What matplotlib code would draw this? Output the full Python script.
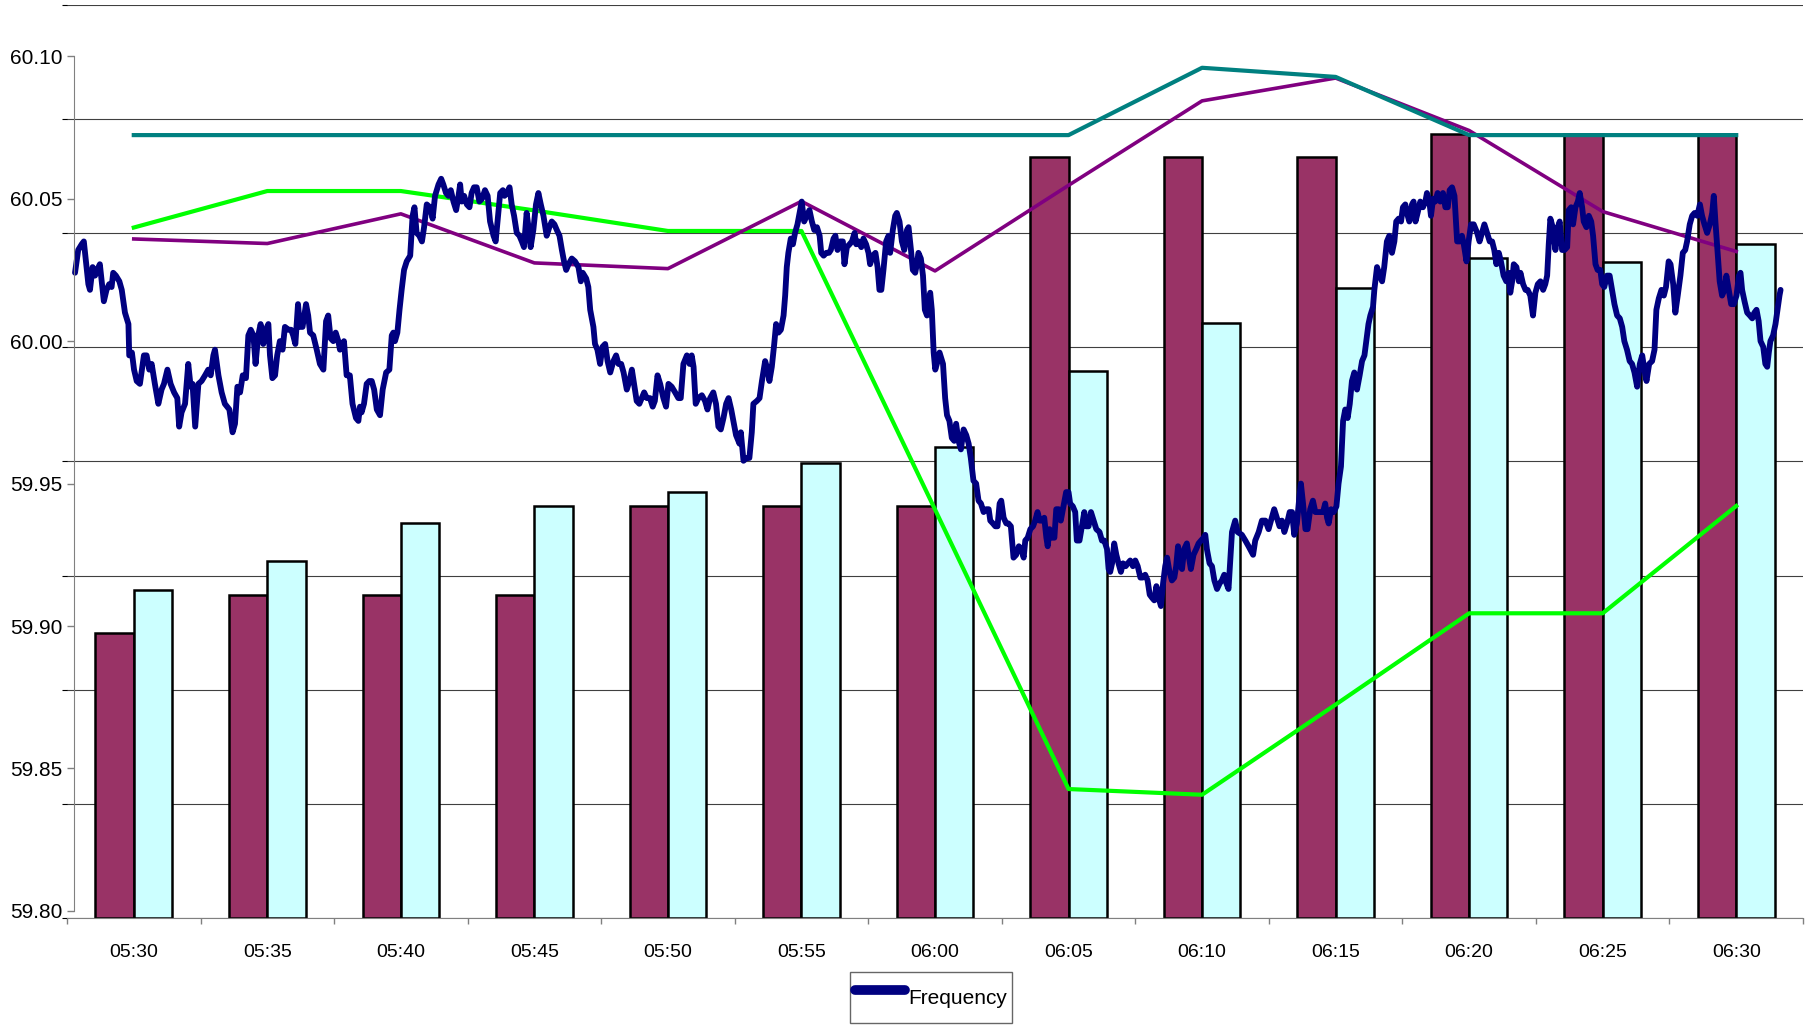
import matplotlib.pyplot as plt
import numpy as np
from matplotlib.lines import Line2D
from matplotlib import font_manager as fm

# categories (5 minute blocks)
times = ["05:30", "05:35", "05:40", "05:45", "05:50", "05:55", "06:00",
         "06:05", "06:10", "06:15", "06:20", "06:25", "06:30"]

# secondary scale series (bars + thin lines)
bar_maroon = [250, 283, 283, 283, 361, 361, 361, 667, 667, 667, 687, 687, 687]
bar_cyan = [287, 313, 346, 361, 373, 399, 413, 479, 521, 552, 578, 575, 591]
line_teal = [686, 686, 686, 686, 686, 686, 686, 686, 745, 737, 686, 686, 686]
line_purple = [595, 591, 617, 574, 569, 628, 567, 642, 716, 736, 690, 619, 584]
line_green = [605, 637, 637, 620, 602, 602, 358, 113, 108, 187, 267, 267, 361]

# frequency trace: (minutes after 05:30, Hz)
freq_a = [(-2.20, 60.024), (-2.08, 60.032), (-1.95, 60.034), (-1.87, 60.035), (-1.79, 60.028),
          (-1.70, 60.020), (-1.64, 60.018), (-1.54, 60.026), (-1.45, 60.023), (-1.37, 60.025),
          (-1.27, 60.027), (-1.20, 60.021), (-1.12, 60.014), (-1.02, 60.018), (-0.92, 60.020),
          (-0.83, 60.019), (-0.77, 60.024), (-0.67, 60.023), (-0.54, 60.021), (-0.45, 60.018),
          (-0.33, 60.010), (-0.20, 60.006), (-0.17, 59.995), (-0.07, 59.996), (0.01, 59.990),
          (0.11, 59.986), (0.23, 59.985), (0.38, 59.995), (0.48, 59.995), (0.58, 59.990),
          (0.67, 59.992), (0.79, 59.985), (0.92, 59.978), (1.04, 59.983), (1.13, 59.985),
          (1.26, 59.990), (1.38, 59.985), (1.51, 59.982), (1.63, 59.980), (1.70, 59.970),
          (1.79, 59.975), (1.92, 59.978), (2.04, 59.992), (2.13, 59.984), (2.20, 59.985),
          (2.30, 59.970), (2.42, 59.985), (2.54, 59.986), (2.67, 59.988), (2.79, 59.990),
          (2.88, 59.988), (2.98, 59.995), (3.04, 59.997), (3.17, 59.988), (3.29, 59.982),
          (3.41, 59.978), (3.58, 59.976), (3.70, 59.968), (3.79, 59.971), (3.88, 59.984),
          (3.98, 59.982), (4.08, 59.988), (4.20, 59.987), (4.29, 60.002), (4.38, 60.004),
          (4.48, 60.002), (4.56, 59.992), (4.66, 60.002), (4.75, 60.006), (4.85, 59.999),
          (4.94, 60.004), (5.04, 60.006), (5.10, 59.995), (5.19, 59.987), (5.29, 59.988),
          (5.37, 59.995), (5.47, 60.000), (5.57, 59.997), (5.66, 60.005), (5.79, 60.004),
          (5.89, 60.004), (5.97, 60.002), (6.05, 59.999), (6.15, 60.013), (6.22, 60.005),
          (6.32, 60.005), (6.45, 60.013), (6.53, 60.009), (6.60, 60.003), (6.72, 60.002),
          (6.85, 59.997), (6.97, 59.992), (7.10, 59.990), (7.20, 60.007), (7.28, 60.009),
          (7.37, 60.001), (7.47, 60.000), (7.56, 60.003), (7.66, 60.000), (7.72, 59.997),
          (7.82, 59.998), (7.87, 60.000), (7.97, 59.988), (8.09, 59.988), (8.19, 59.978),
          (8.32, 59.973), (8.41, 59.972)]
freq_b = [(8.47, 59.977), (8.53, 59.975), (8.62, 59.978), (8.72, 59.985), (8.82, 59.986),
          (8.91, 59.986), (9.00, 59.983), (9.10, 59.976), (9.22, 59.974), (9.32, 59.983),
          (9.45, 59.989), (9.57, 59.990), (9.66, 60.002), (9.72, 60.003), (9.78, 60.000),
          (9.87, 60.003), (9.95, 60.011), (10.03, 60.018), (10.12, 60.025), (10.22, 60.028),
          (10.35, 60.030), (10.44, 60.044), (10.51, 60.047), (10.59, 60.038), (10.69, 60.037),
          (10.79, 60.035), (10.87, 60.040), (10.97, 60.048), (11.09, 60.047), (11.19, 60.043),
          (11.28, 60.051), (11.41, 60.055), (11.51, 60.057), (11.59, 60.055), (11.69, 60.052),
          (11.78, 60.051), (11.87, 60.053), (11.97, 60.049), (12.07, 60.046), (12.16, 60.051),
          (12.22, 60.055), (12.28, 60.049), (12.37, 60.051), (12.47, 60.048), (12.57, 60.047),
          (12.65, 60.052), (12.74, 60.054), (12.84, 60.054), (12.94, 60.049), (13.04, 60.050),
          (13.15, 60.053), (13.25, 60.051), (13.34, 60.042), (13.47, 60.037), (13.55, 60.035),
          (13.62, 60.042), (13.72, 60.052), (13.82, 60.053), (13.88, 60.051), (13.97, 60.052),
          (14.07, 60.054), (14.15, 60.048), (14.24, 60.044), (14.34, 60.038), (14.44, 60.037),
          (14.53, 60.035), (14.61, 60.033), (14.71, 60.045), (14.78, 60.040), (14.86, 60.033),
          (14.96, 60.039), (15.06, 60.048), (15.15, 60.052), (15.24, 60.048), (15.34, 60.044),
          (15.46, 60.037), (15.56, 60.040), (15.65, 60.042), (15.75, 60.041), (15.84, 60.039),
          (15.94, 60.037), (16.03, 60.032), (16.11, 60.028), (16.19, 60.025), (16.28, 60.027),
          (16.40, 60.029), (16.52, 60.028), (16.65, 60.026), (16.74, 60.021), (16.81, 60.024),
          (16.94, 60.022), (17.02, 60.019), (17.09, 60.011), (17.21, 60.005), (17.27, 59.999),
          (17.36, 59.997), (17.46, 59.992), (17.55, 59.998), (17.65, 59.999), (17.74, 59.993),
          (17.84, 59.989), (17.96, 59.993), (18.06, 59.995), (18.15, 59.992), (18.25, 59.992),
          (18.34, 59.989), (18.46, 59.983), (18.56, 59.986), (18.65, 59.990), (18.73, 59.985),
          (18.83, 59.979), (18.93, 59.978), (19.02, 59.980), (19.11, 59.982), (19.21, 59.980)]
freq_c = [(19.33, 59.980), (19.43, 59.977), (19.51, 59.979), (19.61, 59.988), (19.71, 59.985),
          (19.83, 59.980), (19.93, 59.977), (20.02, 59.985), (20.14, 59.984), (20.27, 59.982),
          (20.39, 59.980), (20.48, 59.980), (20.58, 59.992), (20.71, 59.995), (20.81, 59.992),
          (20.89, 59.995), (20.96, 59.991), (21.04, 59.978), (21.14, 59.980), (21.27, 59.981),
          (21.39, 59.979), (21.48, 59.976), (21.58, 59.980), (21.70, 59.982), (21.80, 59.978),
          (21.89, 59.970), (21.98, 59.969), (22.08, 59.973), (22.18, 59.978), (22.27, 59.980),
          (22.37, 59.976), (22.45, 59.972), (22.55, 59.967), (22.68, 59.964), (22.73, 59.968),
          (22.83, 59.958), (22.95, 59.959), (23.05, 59.959), (23.14, 59.968), (23.20, 59.978),
          (23.33, 59.979), (23.43, 59.980), (23.52, 59.986), (23.64, 59.993), (23.73, 59.990),
          (23.80, 59.986), (23.89, 59.991), (23.98, 59.999), (24.05, 60.006), (24.14, 60.003),
          (24.23, 60.004), (24.33, 60.009), (24.39, 60.016), (24.45, 60.026), (24.51, 60.031),
          (24.60, 60.036), (24.68, 60.034), (24.76, 60.038), (24.85, 60.041), (24.93, 60.045),
          (25.01, 60.049), (25.10, 60.042), (25.20, 60.044), (25.30, 60.046), (25.39, 60.042),
          (25.48, 60.039), (25.58, 60.040), (25.68, 60.037), (25.74, 60.031), (25.83, 60.030),
          (25.93, 60.031), (26.03, 60.031), (26.10, 60.032), (26.20, 60.036), (26.27, 60.037),
          (26.35, 60.032), (26.45, 60.035), (26.55, 60.035), (26.61, 60.027), (26.70, 60.033),
          (26.80, 60.034), (26.89, 60.035), (26.99, 60.038), (27.05, 60.034), (27.14, 60.035),
          (27.24, 60.033), (27.32, 60.036), (27.42, 60.034), (27.51, 60.031), (27.57, 60.027),
          (27.67, 60.030), (27.77, 60.031), (27.85, 60.026), (27.92, 60.018), (27.99, 60.018),
          (28.07, 60.025), (28.17, 60.035), (28.26, 60.037), (28.32, 60.031), (28.42, 60.039),
          (28.51, 60.044), (28.57, 60.045), (28.67, 60.042), (28.76, 60.035), (28.85, 60.032),
          (28.95, 60.039), (29.01, 60.040), (29.10, 60.032), (29.17, 60.025), (29.26, 60.024),
          (29.32, 60.027), (29.38, 60.031), (29.47, 60.029), (29.55, 60.023), (29.62, 60.011),
          (29.70, 60.009), (29.77, 60.014), (29.82, 60.017), (29.88, 60.011), (29.95, 59.996),
          (30.01, 59.990), (30.07, 59.992), (30.17, 59.996)]
freq_d = [(30.30, 59.992), (30.38, 59.980), (30.45, 59.974), (30.54, 59.972), (30.63, 59.966),
          (30.72, 59.965), (30.79, 59.971), (30.88, 59.965), (30.97, 59.962), (31.07, 59.969),
          (31.17, 59.967), (31.26, 59.964), (31.34, 59.959), (31.44, 59.951), (31.54, 59.950),
          (31.63, 59.944), (31.72, 59.943), (31.82, 59.940), (31.92, 59.941), (32.01, 59.941),
          (32.07, 59.937), (32.17, 59.936), (32.26, 59.935), (32.34, 59.935), (32.42, 59.943),
          (32.48, 59.944), (32.57, 59.938), (32.67, 59.936), (32.75, 59.936), (32.84, 59.935),
          (32.94, 59.924), (33.04, 59.925), (33.14, 59.928), (33.23, 59.927), (33.32, 59.924),
          (33.38, 59.930), (33.47, 59.931), (33.57, 59.934), (33.67, 59.935), (33.75, 59.937),
          (33.84, 59.940), (33.92, 59.937), (34.00, 59.937), (34.09, 59.938), (34.17, 59.931),
          (34.22, 59.928), (34.29, 59.934), (34.38, 59.931), (34.47, 59.931), (34.54, 59.941),
          (34.63, 59.941), (34.71, 59.937), (34.81, 59.942), (34.91, 59.947), (35.00, 59.947),
          (35.06, 59.943), (35.16, 59.942), (35.25, 59.940), (35.31, 59.930), (35.41, 59.930),
          (35.50, 59.935), (35.59, 59.940), (35.66, 59.935), (35.75, 59.935), (35.84, 59.940),
          (35.94, 59.937), (36.04, 59.934), (36.16, 59.933), (36.25, 59.930), (36.34, 59.930),
          (36.44, 59.927), (36.50, 59.920), (36.56, 59.919), (36.63, 59.922), (36.71, 59.929),
          (36.79, 59.925), (36.87, 59.922), (36.96, 59.919), (37.04, 59.922), (37.14, 59.921),
          (37.22, 59.922), (37.31, 59.923), (37.41, 59.921), (37.50, 59.923), (37.59, 59.921),
          (37.69, 59.917), (37.77, 59.917), (37.87, 59.918), (37.96, 59.916), (38.04, 59.911),
          (38.12, 59.910), (38.21, 59.909), (38.29, 59.914), (38.37, 59.910), (38.46, 59.907),
          (38.54, 59.915), (38.62, 59.921), (38.69, 59.924), (38.78, 59.919), (38.87, 59.916),
          (38.96, 59.917), (39.03, 59.921), (39.10, 59.928), (39.18, 59.921), (39.25, 59.920),
          (39.33, 59.927), (39.43, 59.929), (39.51, 59.924), (39.58, 59.920), (39.68, 59.925),
          (39.78, 59.927), (39.87, 59.929), (39.96, 59.930), (40.06, 59.931), (40.12, 59.932),
          (40.18, 59.927), (40.28, 59.922), (40.37, 59.921), (40.46, 59.916), (40.56, 59.913),
          (40.66, 59.915), (40.74, 59.916), (40.83, 59.918), (40.91, 59.915), (40.99, 59.913)]
freq_e = [(41.12, 59.933), (41.24, 59.937), (41.33, 59.933), (41.49, 59.932), (41.62, 59.930),
          (41.74, 59.928), (41.91, 59.925), (41.99, 59.930), (42.12, 59.933), (42.24, 59.937),
          (42.37, 59.937), (42.49, 59.934), (42.58, 59.937), (42.70, 59.941), (42.80, 59.938),
          (42.90, 59.935), (42.99, 59.937), (43.08, 59.933), (43.18, 59.936), (43.28, 59.940),
          (43.37, 59.940), (43.45, 59.932), (43.55, 59.936), (43.64, 59.945), (43.70, 59.950),
          (43.78, 59.943), (43.87, 59.934), (43.95, 59.934), (44.05, 59.941), (44.15, 59.944),
          (44.24, 59.940), (44.33, 59.940), (44.43, 59.940), (44.53, 59.940), (44.61, 59.943),
          (44.68, 59.938), (44.74, 59.936), (44.83, 59.941), (44.93, 59.940), (45.03, 59.942),
          (45.11, 59.950), (45.20, 59.956), (45.28, 59.972), (45.36, 59.976), (45.45, 59.973),
          (45.53, 59.978), (45.61, 59.986), (45.70, 59.989), (45.80, 59.983), (45.90, 59.988),
          (45.99, 59.993), (46.08, 59.995), (46.15, 60.000), (46.23, 60.006), (46.30, 60.009),
          (46.40, 60.012), (46.45, 60.018), (46.55, 60.026), (46.65, 60.023), (46.74, 60.021),
          (46.82, 60.026), (46.92, 60.035), (47.01, 60.037), (47.11, 60.031), (47.20, 60.035),
          (47.27, 60.042), (47.36, 60.043), (47.45, 60.042), (47.52, 60.047), (47.61, 60.048),
          (47.67, 60.045), (47.76, 60.042), (47.86, 60.048), (47.92, 60.049), (47.99, 60.042),
          (48.07, 60.045), (48.17, 60.049), (48.27, 60.047), (48.36, 60.049), (48.42, 60.052),
          (48.51, 60.049), (48.57, 60.044), (48.65, 60.050), (48.73, 60.049), (48.82, 60.052),
          (48.92, 60.049), (49.02, 60.052), (49.11, 60.047), (49.20, 60.047), (49.27, 60.053),
          (49.36, 60.054), (49.45, 60.051), (49.55, 60.035), (49.65, 60.035), (49.73, 60.037),
          (49.80, 60.034), (49.90, 60.028), (49.98, 60.035), (50.07, 60.041), (50.17, 60.041),
          (50.30, 60.038), (50.39, 60.035), (50.48, 60.038), (50.57, 60.041), (50.67, 60.038),
          (50.77, 60.035), (50.86, 60.035), (50.94, 60.032), (51.02, 60.027), (51.11, 60.031),
          (51.19, 60.028), (51.29, 60.023), (51.39, 60.021), (51.48, 60.024), (51.54, 60.017),
          (51.61, 60.021), (51.67, 60.027), (51.77, 60.026), (51.86, 60.021)]
freq_f = [(51.92, 60.024), (52.02, 60.020), (52.11, 60.018), (52.19, 60.018), (52.29, 60.016),
          (52.39, 60.009), (52.48, 60.017), (52.57, 60.020), (52.67, 60.021), (52.77, 60.018),
          (52.85, 60.020), (52.92, 60.023), (52.98, 60.034), (53.04, 60.043), (53.13, 60.040),
          (53.23, 60.032), (53.32, 60.040), (53.39, 60.042), (53.48, 60.032), (53.57, 60.032),
          (53.67, 60.033), (53.73, 60.046), (53.82, 60.047), (53.89, 60.041), (53.98, 60.047),
          (54.07, 60.049), (54.14, 60.052), (54.23, 60.047), (54.29, 60.042), (54.39, 60.040),
          (54.48, 60.044), (54.57, 60.042), (54.64, 60.037), (54.73, 60.027), (54.81, 60.025),
          (54.91, 60.025), (54.98, 60.020), (55.06, 60.019), (55.16, 60.023), (55.26, 60.023),
          (55.35, 60.018), (55.44, 60.013), (55.54, 60.009), (55.64, 60.008), (55.73, 60.005),
          (55.81, 60.000), (55.91, 59.997), (56.01, 59.993), (56.10, 59.992), (56.19, 59.989),
          (56.29, 59.984), (56.39, 59.992), (56.48, 59.995), (56.56, 59.990), (56.64, 59.986),
          (56.74, 59.992), (56.85, 59.993), (56.94, 59.997), (57.01, 60.011), (57.10, 60.015),
          (57.20, 60.018), (57.29, 60.016), (57.37, 60.019), (57.47, 60.028), (57.54, 60.027),
          (57.64, 60.020), (57.72, 60.010), (57.81, 60.016), (57.91, 60.023), (58.00, 60.031),
          (58.09, 60.032), (58.16, 60.035), (58.26, 60.041), (58.35, 60.044), (58.44, 60.045),
          (58.54, 60.044), (58.64, 60.048), (58.72, 60.044), (58.81, 60.041), (58.91, 60.038),
          (59.01, 60.041), (59.10, 60.045), (59.16, 60.051), (59.22, 60.042), (59.31, 60.030),
          (59.38, 60.021), (59.47, 60.016), (59.56, 60.018), (59.63, 60.023), (59.72, 60.018),
          (59.81, 60.013), (59.91, 60.013), (60.01, 60.016), (60.10, 60.023), (60.16, 60.024),
          (60.22, 60.018), (60.31, 60.014), (60.41, 60.010), (60.51, 60.009), (60.60, 60.008),
          (60.68, 60.010), (60.76, 60.011), (60.84, 60.007), (60.91, 60.000), (61.01, 59.998),
          (61.09, 59.992), (61.16, 59.991), (61.22, 59.996), (61.28, 60.000), (61.38, 60.002),
          (61.47, 60.006), (61.53, 60.010), (61.62, 60.016), (61.66, 60.018)]

freq_ticks = [59.80, 59.85, 59.90, 59.95, 60.00, 60.05, 60.10]


def have_font(name):
    try:
        fm.findfont(fm.FontProperties(family=name), fallback_to_default=False)
        return True
    except ValueError:
        return False


# the original labels are squeezed; use a narrow face when there is one
if have_font('Liberation Sans Narrow'):
    narrow, ysize, legsize = ['Liberation Sans Narrow', 'DejaVu Sans'], 19, 18
else:
    narrow, ysize, legsize = ['Liberation Sans', 'DejaVu Sans'], 15, 15
plt.rcParams['font.family'] = ['Liberation Sans', 'DejaVu Sans']

fig = plt.figure(figsize=(18.11, 10.29), dpi=100)
ax = fig.add_axes([67 / 1811, 111 / 1029, 1736 / 1811, 913 / 1029])

x = np.arange(len(times))
w = 0.287
ax.bar(x - w / 2, bar_maroon, w, color='#993366', edgecolor='black', linewidth=1.8, zorder=2)
ax.bar(x + w / 2, bar_cyan, w, color='#CCFFFF', edgecolor='black', linewidth=1.8, zorder=2)
ax.plot(x, line_green, color='#00FF00', lw=3.0, zorder=3)
ax.plot(x, line_purple, color='#800080', lw=2.6, zorder=3)
ax.plot(x, line_teal, color='#008080', lw=3.0, zorder=3)

ax.set_ylim(0, 800)
ax.set_yticks(np.arange(0, 801, 100))
ax.grid(axis='y', color='#404040', lw=0.8)
ax.set_axisbelow(True)
ax.tick_params(axis='y', left=False, labelleft=False)

ax.set_xlim(-0.5, len(times) - 0.5)
ax.set_xticks(np.arange(-0.5, len(times), 1))
ax.set_xticklabels([])
ax.set_xticks(x, minor=True)
ax.set_xticklabels(times, minor=True)
ax.tick_params(axis='x', which='major', length=4.5, width=1, color='#808080', direction='out')
ax.tick_params(axis='x', which='minor', length=0, pad=18.5, labelsize=14)
for s in ['top', 'right', 'left']:
    ax.spines[s].set_visible(False)
ax.spines['bottom'].set_color('#808080')

# frequency on its own scale, drawn on top
ax2 = ax.twinx()
fx, fy = [], []
for seg in [freq_a, freq_b, freq_c, freq_d, freq_e, freq_f]:
    for t, v in seg:
        fx.append(t / 5.0)
        fy.append(v)
ax2.plot(fx, fy, color='#000080', lw=4.2, solid_joinstyle='round', solid_capstyle='round')
ax2.set_ylim(59.7975, 60.118)
ax2.yaxis.tick_left()
ax2.tick_params(axis='y', length=5, width=1, color='#808080', direction='out', pad=3,
                labelsize=ysize, labelfontfamily=narrow)
ax2.set_yticks(freq_ticks)
ax2.set_yticklabels([f"{v:.2f}" for v in freq_ticks])
for s in ['top', 'right', 'bottom']:
    ax2.spines[s].set_visible(False)
ax2.spines['left'].set_position(('axes', 7 / 1736))
ax2.spines['left'].set_bounds(59.80, 60.10)
ax2.spines['left'].set_color('#808080')

handle = Line2D([], [], color='#000080', lw=7, solid_capstyle='round')
leg = fig.legend([handle], ['Frequency'], loc='upper center',
                 bbox_to_anchor=(931 / 1811, 1 - 972 / 1029), frameon=True, fancybox=False,
                 prop={'family': narrow, 'size': legsize}, handlelength=2.4, handletextpad=0.15,
                 handleheight=2.6, borderpad=0.25, borderaxespad=0)
leg.get_frame().set_edgecolor('#404040')
leg.get_frame().set_linewidth(1.0)

fig.savefig('out.png', dpi=100)
